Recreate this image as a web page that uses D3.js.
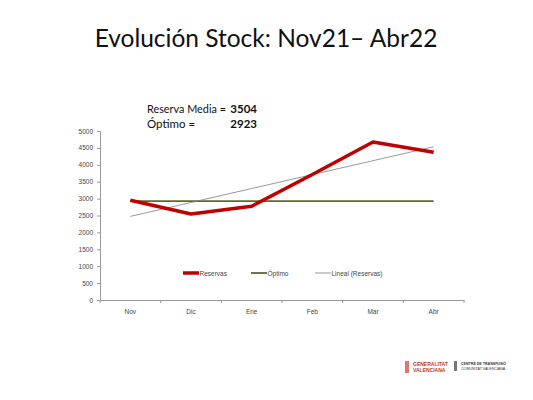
<!DOCTYPE html>
<html><head><meta charset="utf-8">
<script src="https://cdn.jsdelivr.net/npm/d3@7"></script>
<style>body{margin:0;background:#fff}svg{display:block}</style>
</head><body><svg id="c" width="533" height="400"></svg>
<script>
const categories = ["Nov","Dic","Ene","Feb","Mar","Abr"];
const reservas = [2950, 2545, 2773, 3714, 4673, 4369];
const optimo = [2923, 2923, 2923, 2923, 2923, 2923];
const yTicks = [0,500,1000,1500,2000,2500,3000,3500,4000,4500,5000];
const legendLabels = ["Reservas","Óptimo","Lineal (Reservas)"];
const title = "Evolución Stock: Nov21\u2013 Abr22";
const reservaMedia = 3504;
const optimoValue = 2923;

(function(){
// linear trend (least squares) of reservas
const n = reservas.length, mx = (n-1)/2, my = d3.mean(reservas);
const slope = d3.sum(reservas, (v,i)=>(i-mx)*(v-my)) / d3.sum(reservas, (v,i)=>(i-mx)*(i-mx));
const trend = reservas.map((v,i)=> my + slope*(i-mx));

const svg = d3.select("#c");
const pL = 100, pR = 464, pT = 131, pB = 300;
const x = d3.scaleBand().domain(categories).range([pL, pR]);
const y = d3.scaleLinear().domain([0, 5000]).range([pB, pT]);
const cx = c => x(c) + x.bandwidth()/2;

// title
svg.append("text").attr("x", 266).attr("y", 47).attr("text-anchor","middle")
  .attr("font-family","Lato, 'Open Sans', sans-serif").attr("font-size", 24.5).attr("fill","#111")
  .text(title);

// annotation
const ann = svg.append("g").attr("font-family","Lato, 'Open Sans', sans-serif").attr("font-size", 11.5).attr("fill","#111");
ann.append("text").attr("x",147).attr("y",113).attr("textLength",79).attr("lengthAdjust","spacingAndGlyphs").text("Reserva Media =");
ann.append("text").attr("x",257).attr("y",113).attr("text-anchor","end").attr("font-weight","bold").text(reservaMedia);
ann.append("text").attr("x",147).attr("y",128).text("Óptimo =");
ann.append("text").attr("x",257).attr("y",128).attr("text-anchor","end").attr("font-weight","bold").text(optimoValue);

// y axis
const yAxis = svg.append("g").attr("transform",`translate(${pL},0)`)
  .call(d3.axisLeft(y).tickValues(yTicks).tickSize(3).tickPadding(4).tickFormat(d3.format("d")));
yAxis.select(".domain").attr("stroke","#999");
yAxis.selectAll(".tick line").attr("stroke","#999");
yAxis.selectAll("text").attr("font-family","'Liberation Sans', Arial, sans-serif").attr("font-size",6.5).attr("fill","#444");

// x axis
const xAxis = svg.append("g").attr("transform",`translate(0,${pB})`)
  .call(d3.axisBottom(x).tickSize(0).tickPadding(9));
xAxis.select(".domain").attr("stroke","#999");
xAxis.selectAll("text").attr("font-family","'Liberation Sans', Arial, sans-serif").attr("font-size",6.5).attr("fill","#444");
xAxis.selectAll(".bt").data(categories.concat(["_end"])).join("line").attr("class","bt")
  .attr("x1",(d,i)=> i<categories.length ? x(d) : pR).attr("x2",(d,i)=> i<categories.length ? x(d) : pR)
  .attr("y1",0).attr("y2",3).attr("stroke","#999");

const line = d3.line().x((d,i)=>cx(categories[i])).y(d=>y(d));

svg.append("path").datum(optimo).attr("d",line).attr("fill","none").attr("stroke","#5b6b2e").attr("stroke-width",1.8);
svg.append("path").datum(trend).attr("d",line).attr("fill","none").attr("stroke","#7f7f7f").attr("stroke-width",0.8);
svg.append("path").datum(reservas).attr("d",line).attr("fill","none").attr("stroke","#c00000").attr("stroke-width",3.5).attr("stroke-linejoin","round");

// legend
const legendX = [183, 251, 315];
const legendStyle = [["#c00000",3.5],["#5b6b2e",1.8],["#7f7f7f",0.8]];
const lg = svg.append("g");
legendLabels.forEach((l,i)=>{
  lg.append("line").attr("x1",legendX[i]).attr("x2",legendX[i]+16).attr("y1",273).attr("y2",273)
    .attr("stroke",legendStyle[i][0]).attr("stroke-width",legendStyle[i][1]);
  lg.append("text").attr("x",legendX[i]+16.5).attr("y",275.5)
    .attr("font-family","'Liberation Sans', Arial, sans-serif").attr("font-size",6.5).attr("fill","#444").text(l);
});

// logos (footer)
const ft = svg.append("g");
ft.append("rect").attr("x",405).attr("y",361).attr("width",4).attr("height",12).attr("fill","#d9534f").attr("opacity",0.8);
ft.append("text").attr("x",413).attr("y",366).attr("font-family","'Liberation Sans', Arial, sans-serif").attr("font-size",5).attr("fill","#c0392b").attr("font-weight","bold").text("GENERALITAT");
ft.append("text").attr("x",413).attr("y",372).attr("font-family","'Liberation Sans', Arial, sans-serif").attr("font-size",5).attr("fill","#c0392b").attr("font-weight","bold").text("VALENCIANA");
ft.append("rect").attr("x",454).attr("y",361).attr("width",3).attr("height",10).attr("fill","#777");
ft.append("text").attr("x",461).attr("y",365).attr("font-family","'Liberation Sans', Arial, sans-serif").attr("font-size",3.6).attr("fill","#333").attr("font-weight","bold").text("CENTRE DE TRANSFUSIÓ");
ft.append("text").attr("x",461).attr("y",369.5).attr("font-family","'Liberation Sans', Arial, sans-serif").attr("font-size",3.6).attr("fill","#333").text("COMUNITAT VALENCIANA");
})();
</script></body></html>
